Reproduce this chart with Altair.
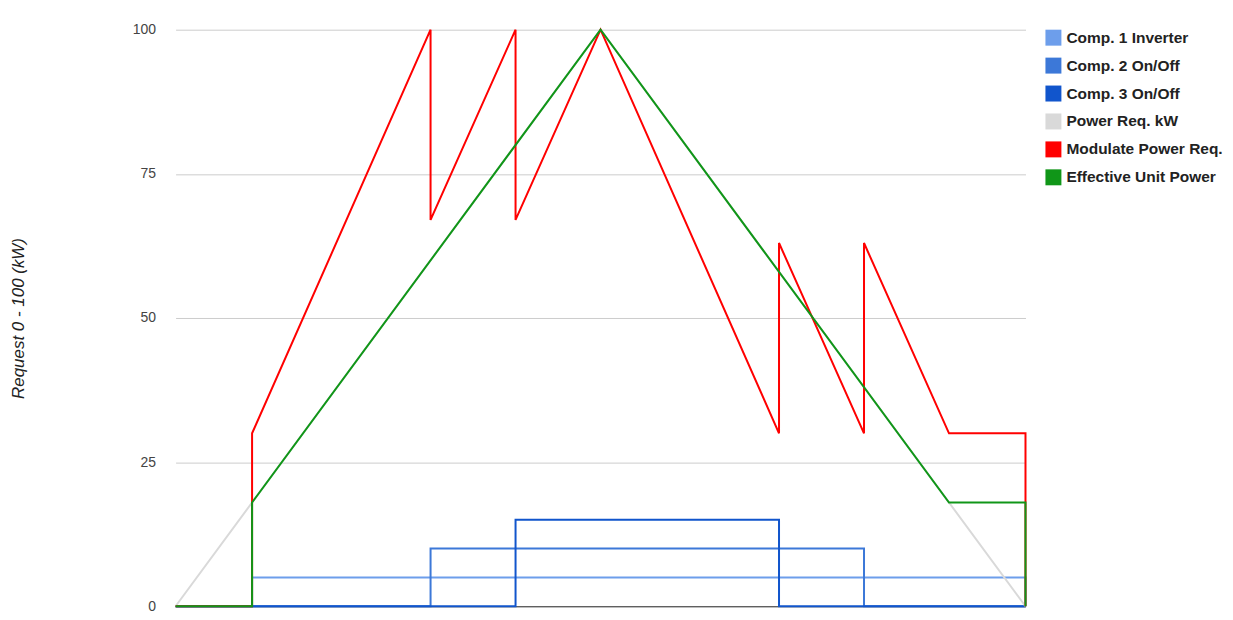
import altair as alt
import pandas as pd

series_names = ["Comp. 1 Inverter", "Comp. 2 On/Off", "Comp. 3 On/Off",
                "Power Req. kW", "Modulate Power Req.", "Effective Unit Power"]
series_colors = ["#6d9eeb", "#3c78d8", "#1155cc", "#d9d9d9", "#ff0000", "#109618"]

comp1_x = [0, 18, 18, 200, 200]
comp1_y = [0, 0, 5, 5, 0]
comp2_x = [0, 60, 60, 162, 162, 200]
comp2_y = [0, 0, 10, 10, 0, 0]
comp3_x = [0, 80, 80, 142, 142, 200]
comp3_y = [0, 0, 15, 15, 0, 0]
power_x = [0, 100, 200]
power_y = [0, 100, 0]
mod_x = [0, 18, 18, 60, 60, 80, 80, 100, 142, 142, 162, 162, 182, 200, 200]
mod_y = [0, 0, 30, 100, 67, 100, 67, 100, 30, 63, 30, 63, 30, 30, 0]
eff_x = [0, 18, 18, 100, 182, 200, 200]
eff_y = [0, 0, 18, 100, 18, 18, 0]
y_ticks = [0, 25, 50, 75, 100]

rows = []
for name, xs, ys in zip(series_names,
                        [comp1_x, comp2_x, comp3_x, power_x, mod_x, eff_x],
                        [comp1_y, comp2_y, comp3_y, power_y, mod_y, eff_y]):
    for i, (xv, yv) in enumerate(zip(xs, ys)):
        rows.append({"series": name, "t": xv, "v": yv, "i": i})
df = pd.DataFrame(rows)

chart = alt.Chart(df).mark_line(strokeWidth=2).encode(
    x=alt.X("t:Q", scale=alt.Scale(domain=[0, 200], nice=False),
            axis=alt.Axis(labels=False, ticks=False, grid=False, title=None,
                          domain=True, domainColor="#333333", domainWidth=1)),
    y=alt.Y("v:Q", scale=alt.Scale(domain=[0, 100], nice=False),
            axis=alt.Axis(values=y_ticks, ticks=False, domain=False, grid=True,
                          gridColor="#cccccc", labelFont="Liberation Sans",
                          labelFontSize=14, labelColor="#444444", labelPadding=20,
                          title="Request 0 - 100 (kW)", titleFont="Liberation Sans",
                          titleFontSize=17, titleFontStyle="italic",
                          titleFontWeight="normal", titleColor="#222222",
                          titleX=-148, titleY=289, titleAngle=270,
                          titleBaseline="bottom", titleAlign="center")),
    color=alt.Color("series:N", sort=series_names,
                    scale=alt.Scale(domain=series_names, range=series_colors),
                    legend=alt.Legend(title=None, orient="right", offset=16,
                                      padding=0, symbolType="square",
                                      symbolSize=64, symbolStrokeWidth=8,
                                      labelFont="Liberation Sans", labelFontSize=15.5,
                                      labelFontWeight="bold", labelColor="#222222",
                                      labelOffset=5, labelLimit=300, rowPadding=-16)),
    order=alt.Order("i:Q"),
).properties(
    width=852, height=578,
    autosize=alt.AutoSizeParams(type="none"),
    padding={"left": 168, "top": 21, "right": 200, "bottom": 5},
).configure_view(stroke=None)

chart.save("out.html", embed_options={"renderer": "svg", "actions": False})
